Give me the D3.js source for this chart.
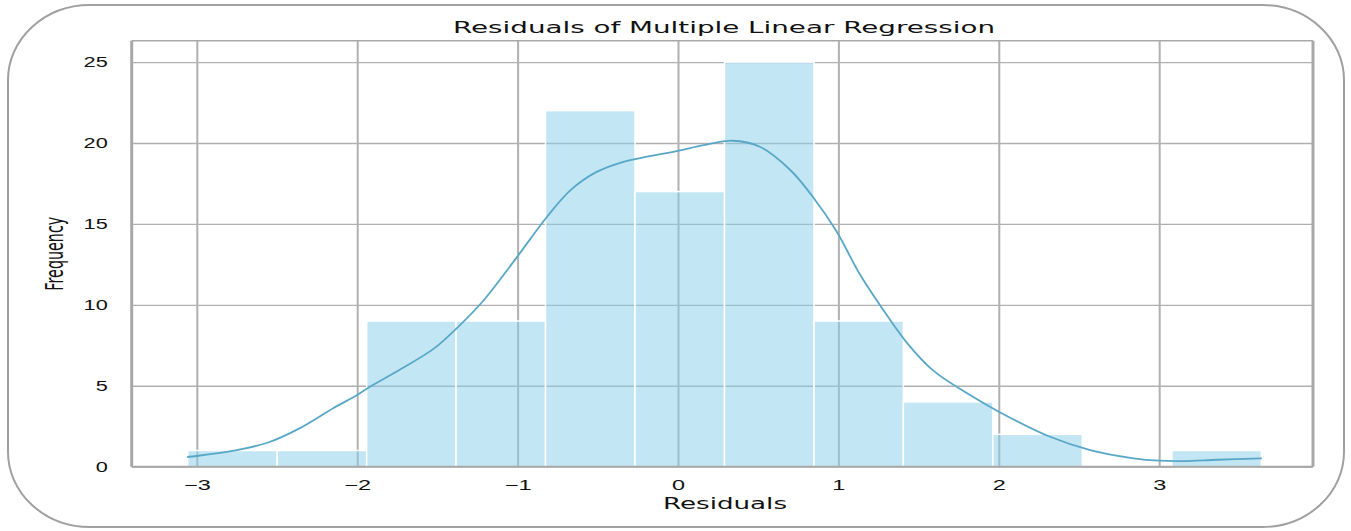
<!DOCTYPE html>
<html lang="en">
<head>
<meta charset="UTF-8">
<title>Residuals of Multiple Linear Regression</title>
<script src="https://d3js.org/d3.v7.min.js"></script>
<style>
  body { margin: 0; background: #fff; }
  svg { display: block; font-family: "DejaVu Sans", sans-serif; }
</style>
</head>
<body>
<svg id="chart" width="1351" height="531"></svg>
<script>
// histogram bins (edges) and counts
var binEdges = [-3.057, -2.499, -1.941, -1.384, -0.826, -0.268, 0.290, 0.848, 1.405, 1.963, 2.521, 3.079, 3.637];
var counts = [1, 1, 9, 9, 22, 17, 25, 9, 4, 2, 0, 1];

// kde curve, sampled by eye
var kdeX = [-3.06, -3.0, -2.77, -2.56, -2.36, -2.15, -2.0, -1.92, -1.73, -1.52, -1.38, -1.21, -1.01, -0.82, -0.67, -0.51, -0.34, -0.175, 0.0, 0.16, 0.34, 0.51, 0.70, 0.84, 0.99, 1.13, 1.28, 1.43, 1.59, 1.80, 2.0, 2.32, 2.57, 2.84, 3.0, 3.15, 3.36, 3.64];
var kdeY = [0.6, 0.66, 0.99, 1.48, 2.37, 3.61, 4.43, 4.94, 6.02, 7.31, 8.55, 10.30, 12.87, 15.40, 17.09, 18.2, 18.84, 19.19, 19.52, 19.87, 20.14, 19.77, 18.33, 16.68, 14.52, 11.95, 9.68, 7.62, 5.95, 4.55, 3.4, 1.85, 1.03, 0.52, 0.37, 0.35, 0.43, 0.52];

var xTicks = [-3, -2, -1, 0, 1, 2, 3];
var yTicks = [0, 5, 10, 15, 20, 25];

var title = "Residuals of Multiple Linear Regression";
var xLabel = "Residuals";
var yLabel = "Frequency";

var stretch = 1.5; // picture is stretched horizontally

var svg = d3.select("#chart");

// rounded frame round the whole figure
svg.append("rect")
  .attr("x", 8).attr("y", 5)
  .attr("width", 1336).attr("height", 522)
  .attr("rx", 82).attr("ry", 75)
  .attr("fill", "none")
  .attr("stroke", "#a0a0a0")
  .attr("stroke-width", 2);

var pLeft = 131.7, pRight = 1313, pTop = 40.7, pBottom = 466.7;

var x = d3.scaleLinear().domain([-3.406, 3.959]).range([pLeft, pRight]);
var y = d3.scaleLinear().domain([0, 26.32]).range([pBottom, pTop]);

// grid via axes
var gx = svg.append("g")
  .attr("transform", "translate(0," + pBottom + ")")
  .call(d3.axisBottom(x).tickValues(xTicks).tickSizeInner(-(pBottom - pTop)).tickSizeOuter(0).tickPadding(13)
    .tickFormat(d3.format("d")));
gx.select(".domain").remove();
gx.selectAll("line").attr("stroke", "#b0b0b0").attr("stroke-width", 2);
gx.selectAll("text")
  .attr("fill", "#111")
  .style("font-size", "14.5px")
  .attr("transform", "scale(1.62,1)");

var gy = svg.append("g")
  .attr("transform", "translate(" + pLeft + ",0)")
  .call(d3.axisLeft(y).tickValues(yTicks).tickSizeInner(-(pRight - pLeft)).tickSizeOuter(0).tickPadding(16));
gy.select(".domain").remove();
gy.selectAll("line").attr("stroke", "#b0b0b0").attr("stroke-width", 1.3);
gy.selectAll("text")
  .attr("fill", "#111")
  .style("font-size", "14px")
  .attr("x", -24 / 1.55)
  .attr("transform", "scale(1.55,1)");

// bars
var bins = counts.map(function(c, i) { return { x0: binEdges[i], x1: binEdges[i + 1], n: c }; });
svg.append("g").selectAll("rect")
  .data(bins.filter(function(b) { return b.n > 0; }))
  .enter().append("rect")
  .attr("x", function(d) { return x(d.x0); })
  .attr("width", function(d) { return x(d.x1) - x(d.x0); })
  .attr("y", function(d) { return y(d.n); })
  .attr("height", function(d) { return y(0) - y(d.n); })
  .attr("fill", "rgba(135,206,235,0.5)")
  .attr("stroke", "#fff")
  .attr("stroke-width", 1.5);

// kde line
var line = d3.line()
  .x(function(d) { return x(d[0]); })
  .y(function(d) { return y(d[1]); })
  .curve(d3.curveCatmullRom.alpha(0.5));
svg.append("path")
  .datum(d3.zip(kdeX, kdeY))
  .attr("d", line)
  .attr("fill", "none")
  .attr("stroke", "#58a7c7")
  .attr("stroke-width", 1.8);

// spines
var spine = svg.append("g").attr("stroke", "#a8a8a8").attr("fill", "none");
spine.append("line").attr("x1", pLeft).attr("x2", pRight).attr("y1", pTop).attr("y2", pTop).attr("stroke-width", 1.6);
spine.append("line").attr("x1", pLeft).attr("x2", pRight).attr("y1", pBottom).attr("y2", pBottom).attr("stroke-width", 2);
spine.append("line").attr("x1", pLeft).attr("x2", pLeft).attr("y1", pTop).attr("y2", pBottom).attr("stroke-width", 3);
spine.append("line").attr("x1", pRight).attr("x2", pRight).attr("y1", pTop).attr("y2", pBottom).attr("stroke-width", 3);

// title and axis labels
svg.append("text")
  .attr("x", 724).attr("y", 33.3)
  .attr("text-anchor", "middle")
  .attr("textLength", 542)
  .attr("lengthAdjust", "spacingAndGlyphs")
  .style("font-size", "15.5px")
  .attr("fill", "#111")
  .text(title);

svg.append("text")
  .attr("x", 725).attr("y", 509.3)
  .attr("text-anchor", "middle")
  .attr("textLength", 124)
  .attr("lengthAdjust", "spacingAndGlyphs")
  .style("font-size", "16px")
  .attr("fill", "#111")
  .text(xLabel);

svg.append("text")
  .attr("transform", "translate(63," + (pTop + pBottom) / 2 + ") scale(" + stretch + ",1) rotate(-90)")
  .attr("text-anchor", "middle")
  .attr("textLength", 74)
  .attr("lengthAdjust", "spacingAndGlyphs")
  .style("font-size", "17px")
  .attr("fill", "#111")
  .text(yLabel);
</script>
</body>
</html>
